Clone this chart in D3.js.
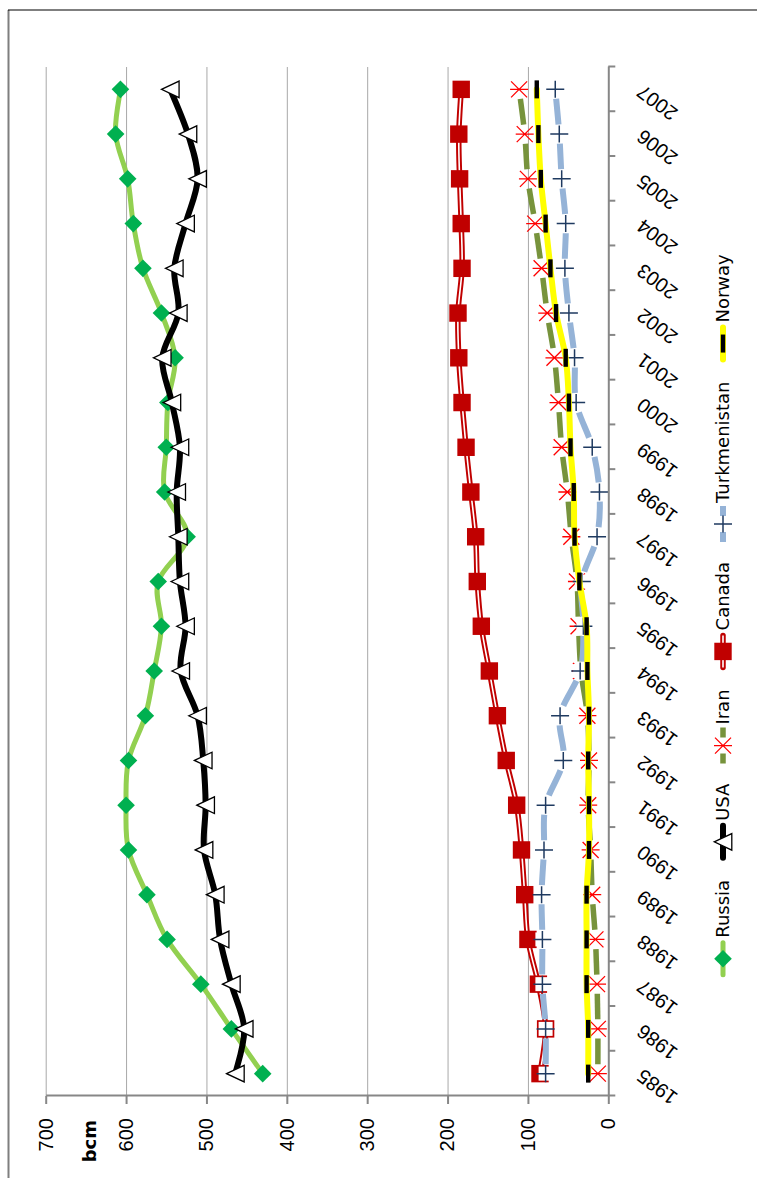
<!DOCTYPE html>
<html>
<head>
<meta charset="utf-8">
<script src="https://cdn.jsdelivr.net/npm/d3@7"></script>
<style>
    body { margin: 0; background: #fff; }
    svg { display: block; font-family: 'Century Gothic', 'DejaVu Sans', sans-serif; }
    .grid line { stroke: #a8a8a8; stroke-width: 1; }
    .grid .domain { display: none; }
    .axis .domain, .axis line { stroke: #878787; stroke-width: 2; }
    .axis text { fill: #000; font-size: 20px; }
</style>
</head>
<body>
<script>
'use strict';

// gas production, bcm
const years = [1985, 1986, 1987, 1988, 1989, 1990, 1991, 1992, 1993, 1994, 1995, 1996,
    1997, 1998, 1999, 2000, 2001, 2002, 2003, 2004, 2005, 2006, 2007];
const russia = [430, 469, 507, 549, 574, 597, 600, 597, 576, 565, 556, 560,
    524, 552, 550, 548, 539, 556, 579, 591, 598, 613, 607];
const usa = [464, 453, 469, 483, 489, 503, 501, 504, 511, 532, 526, 533,
    535, 537, 533, 543, 555, 535, 540, 526, 511, 523, 545];
const iran = [13, 13, 14, 16, 20, 22, 25, 24, 26, 34, 37, 39,
    46, 51, 58, 62, 67, 76, 83, 91, 100, 104, 111];
const canada = [85, 78, 87, 100, 104, 108, 114, 127, 138, 148, 158, 163,
    165, 171, 177, 182, 186, 187, 182, 183, 185, 186, 183];
const turkmenistan = [78, 78, 82, 82, 83, 80, 78, 56, 60, 35, 31, 33,
    14, 11, 20, 40, 42, 49, 54, 53, 58, 61, 66];
const norway = [25, 25, 27, 27, 27, 24, 24, 25, 24, 26, 27, 36,
    42, 43, 47, 49, 53, 65, 72, 78, 84, 87, 89];
const seriesNames = ['Russia', 'USA', 'Iran', 'Canada', 'Turkmenistan', 'Norway'];
const valueTicks = [0, 100, 200, 300, 400, 500, 600, 700];
const valueTitle = 'bcm';

(function () {


    /**
     * The chart is laid out the usual way (years across) and then the whole
     * group is turned a quarter turn counter-clockwise, like the picture.
     */
    function getPlotArea() {
        return {
            page: { width: 757, height: 1178 },
            left: 82,
            right: 1111,
            top: 45.7,
            bottom: 608.3,
            legendY: 723
        };
    }


    function getSeries() {
        const values = [russia, usa, iran, canada, turkmenistan, norway];
        const styles = {
            Russia: { stroke: '#92D050', width: 5, marker: 'diamond' },
            USA: { stroke: '#000', width: 6, marker: 'triangle' },
            Iran: { stroke: '#77933C', width: 5.5, dashed: true, marker: 'star' },
            Canada: { stroke: '#C00000', width: 5.5, double: true, marker: 'square' },
            Turkmenistan: { stroke: '#95B3D7', width: 6, dashed: true, marker: 'plus' },
            Norway: { stroke: '#FFFF00', width: 6, marker: 'dash' }
        };
        return seriesNames.map((name, i) => ({ name: name, values: values[i], style: styles[name] }));
    }


    function makeScales(plot) {
        return {
            x: d3.scaleBand().domain(years).range([plot.left, plot.right]),
            bounds: d3.scaleLinear().domain([0, years.length]).range([plot.left, plot.right]),
            y: d3.scaleLinear().domain([0, 700]).range([plot.bottom, plot.top])
        };
    }


    /**
     * Marker shapes, drawn round the origin of the group passed in.
     */
    const markers = {
        diamond: g => g.append('path')
            .attr('d', 'M0,-8.8L8.8,0L0,8.8L-8.8,0Z')
            .attr('fill', '#00B050'),
        triangle: g => g.append('path')
            .attr('d', 'M0,-8.8L8.3,8.8L-8.3,8.8Z')
            .attr('fill', '#fff')
            .attr('stroke', '#000')
            .attr('stroke-width', 1.3),
        star: g => g.append('path')
            .attr('d', 'M-8,-8L8,8M-8,8L8,-8M0,-9L0,9')
            .attr('stroke', '#FF0000')
            .attr('stroke-width', 1.3),
        square: g => g.append('rect')
            .attr('x', -8.7).attr('y', -8.7)
            .attr('width', 17.4).attr('height', 17.4)
            .attr('fill', '#C00000'),
        plus: g => {
            g.append('rect')
                .attr('x', -7).attr('y', -7)
                .attr('width', 14).attr('height', 14)
                .attr('fill', '#fff');
            g.append('path')
                .attr('d', 'M-8.5,0L8.5,0M0,-9L0,9')
                .attr('stroke', '#1F3A60')
                .attr('stroke-width', 1.5);
        },
        dash: g => g.append('rect')
            .attr('x', -9).attr('y', -2.2)
            .attr('width', 18).attr('height', 4.4)
            .attr('fill', '#000')
    };


    /**
     * Smoothed line pieces, one cubic per pair of years (same shape Excel uses).
     */
    function curveSegments(points) {
        return points.slice(0, -1).map((p1, i) => {
            const p0 = points[Math.max(i - 1, 0)];
            const p2 = points[i + 1];
            const p3 = points[Math.min(i + 2, points.length - 1)];
            return [p1,
                [p1[0] + (p2[0] - p0[0]) / 6, p1[1] + (p2[1] - p0[1]) / 6],
                [p2[0] - (p3[0] - p1[0]) / 6, p2[1] - (p3[1] - p1[1]) / 6],
                p2];
        });
    }


    function segmentPath(seg) {
        const p = d3.path();
        p.moveTo(seg[0][0], seg[0][1]);
        p.bezierCurveTo(seg[1][0], seg[1][1], seg[2][0], seg[2][1], seg[3][0], seg[3][1]);
        return p.toString();
    }


    function fullPath(segs) {
        const p = d3.path();
        p.moveTo(segs[0][0][0], segs[0][0][1]);
        segs.forEach(s => p.bezierCurveTo(s[1][0], s[1][1], s[2][0], s[2][1], s[3][0], s[3][1]));
        return p.toString();
    }


    /**
     * Dashed series get one dash in the middle of each year-to-year piece.
     */
    function appendDashedLine(g, segs, style) {
        g.selectAll()
            .data(segs)
            .enter()
            .append('path')
            .attr('d', segmentPath)
            .attr('fill', 'none')
            .attr('stroke', style.stroke)
            .attr('stroke-width', style.width)
            .attr('stroke-dasharray', function () {
                const len = this.getTotalLength();
                const dash = len * 0.57;
                return '0,' + ((len - dash) / 2) + ',' + dash + ',' + len;
            });
    }


    function appendSolidLine(g, d, style) {
        g.append('path')
            .attr('d', d)
            .attr('fill', 'none')
            .attr('stroke', style.stroke)
            .attr('stroke-width', style.width)
            .attr('stroke-linejoin', 'round')
            .attr('stroke-linecap', 'round');
        if (style.double) {
            g.append('path')
                .attr('d', d)
                .attr('fill', 'none')
                .attr('stroke', '#fff')
                .attr('stroke-width', 1.6)
                .attr('stroke-linejoin', 'round');
        }
    }


    function appendSeries(chart, series, scales) {
        const half = scales.x.bandwidth() / 2;
        series.forEach(s => {
            const g = chart.append('g').attr('class', 'series ' + s.name);
            const points = years.map((yr, i) => [scales.x(yr) + half, scales.y(s.values[i])]);
            const segs = curveSegments(points);
            if (s.style.dashed) {
                appendDashedLine(g, segs, s.style);
            } else {
                appendSolidLine(g, fullPath(segs), s.style);
            }
            g.selectAll('g.marker')
                .data(points)
                .enter()
                .append('g')
                .attr('class', 'marker')
                .attr('transform', d => 'translate(' + d[0] + ',' + d[1] + ')')
                .each(function () { markers[s.style.marker](d3.select(this)); });
        });
    }


    function appendGridLines(chart, scales, plot) {
        chart.append('g')
            .attr('class', 'grid')
            .attr('transform', 'translate(' + plot.left + ',0)')
            .call(d3.axisLeft(scales.y)
                .tickValues(valueTicks.slice(1))
                .tickSize(-(plot.right - plot.left))
                .tickFormat(''));
    }


    function appendValueAxis(chart, scales, plot) {
        chart.append('g')
            .attr('class', 'axis value')
            .attr('transform', 'translate(' + plot.left + ',0)')
            .call(d3.axisLeft(scales.y)
                .tickValues(valueTicks)
                .tickSize(8)
                .tickSizeOuter(0)
                .tickPadding(14));
        chart.append('text')
            .attr('x', 58)
            .attr('y', 90)
            .attr('dy', '0.35em')
            .attr('text-anchor', 'end')
            .attr('font-size', 18)
            .attr('font-weight', 'bold')
            .text(valueTitle);
    }


    /**
     * Year axis: tick marks sit between the years, labels are slanted.
     */
    function appendYearAxis(chart, scales, plot) {
        chart.append('g')
            .attr('class', 'axis')
            .attr('transform', 'translate(0,' + plot.bottom + ')')
            .call(d3.axisBottom(scales.bounds)
                .tickValues(d3.range(years.length + 1))
                .tickSize(7)
                .tickSizeOuter(0)
                .tickFormat(''));
        const labels = chart.append('g')
            .attr('class', 'axis years')
            .attr('transform', 'translate(0,' + plot.bottom + ')')
            .call(d3.axisBottom(scales.x).tickSize(0));
        labels.select('.domain').remove();
        labels.selectAll('text')
            .attr('y', 0)
            .attr('dy', '0.35em')
            .attr('text-anchor', 'end')
            .attr('transform', 'translate(0,31) rotate(-53)');
    }


    function appendLegend(chart, series, plot) {
        const legend = chart.append('g').attr('class', 'legend');
        const entries = series.map(s => {
            const g = legend.append('g');
            if (s.style.dashed) {
                g.append('path')
                    .attr('d', 'M0,0H36')
                    .attr('stroke', s.style.stroke)
                    .attr('stroke-width', s.style.width)
                    .attr('stroke-dasharray', '10,16,10');
            } else {
                appendSolidLine(g, 'M2,0H34', s.style);
            }
            markers[s.style.marker](g.append('g').attr('transform', 'translate(18,0)'));
            const text = g.append('text')
                .attr('x', 39)
                .attr('dy', '0.35em')
                .attr('font-size', 18)
                .text(s.name);
            return { g: g, width: 39 + text.node().getComputedTextLength() };
        });
        const gap = 20;
        const total = d3.sum(entries, e => e.width) + gap * (entries.length - 1);
        let x = (plot.left + plot.right) / 2 - total / 2 - 34;
        entries.forEach(e => {
            e.g.attr('transform', 'translate(' + x + ',' + plot.legendY + ')');
            x += e.width + gap;
        });
    }


    function appendFrame(chart, plot) {
        chart.append('line')
            .attr('x1', -10).attr('x2', plot.page.height - 10)
            .attr('y1', 8.5).attr('y2', 8.5)
            .attr('stroke', '#7f7f7f')
            .attr('stroke-width', 2);
        chart.append('line')
            .attr('x1', plot.page.height - 10).attr('x2', plot.page.height - 10)
            .attr('y1', 8).attr('y2', plot.page.width + 20)
            .attr('stroke', '#000')
            .attr('stroke-width', 1.2);
    }


    function draw() {
        const plot = getPlotArea();
        const series = getSeries();
        const scales = makeScales(plot);
        const svg = d3.select('body').append('svg')
            .attr('width', plot.page.width)
            .attr('height', plot.page.height);
        const chart = svg.append('g')
            .attr('transform', 'translate(0,' + plot.page.height + ') rotate(-90)');
        appendFrame(chart, plot);
        appendGridLines(chart, scales, plot);
        appendSeries(chart, series, scales);
        appendValueAxis(chart, scales, plot);
        appendYearAxis(chart, scales, plot);
        appendLegend(chart, series, plot);
    }


    draw();


})();
</script>
</body>
</html>
